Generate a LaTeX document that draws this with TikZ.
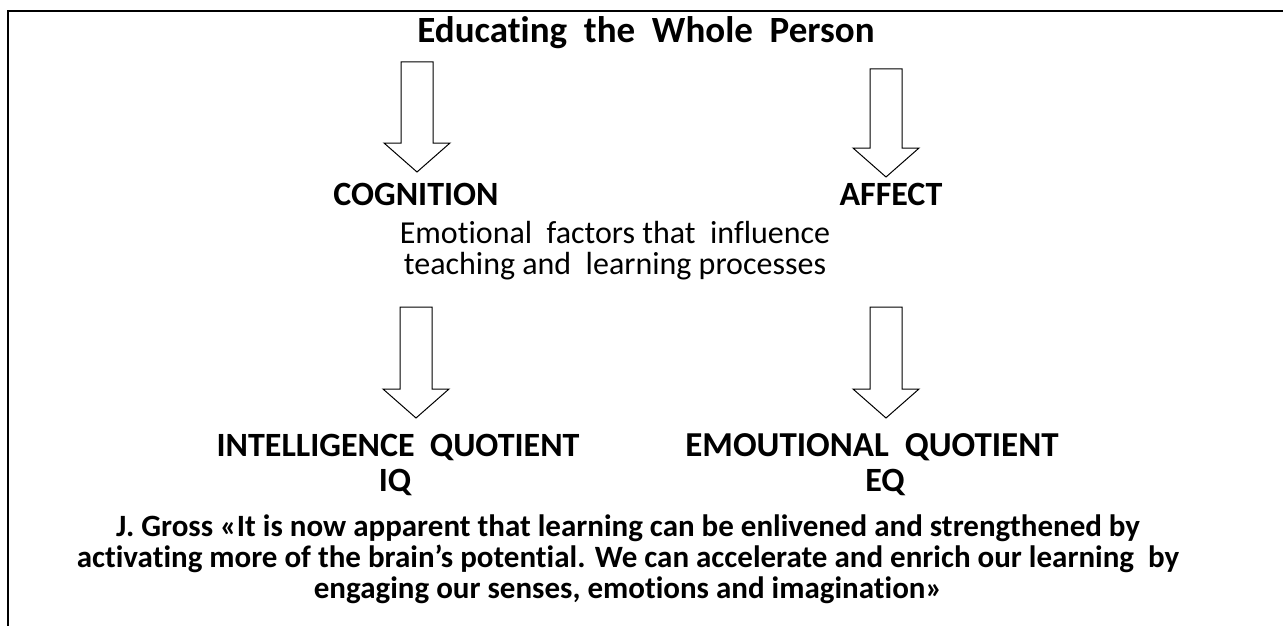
\documentclass[tikz,border=0pt]{standalone}
\usepackage{fontspec}
\setmainfont{Carlito}[Ligatures={NoCommon,NoContextual}]
\usetikzlibrary{calc}
\newcommand{\hollowarrow}[2]{%
	\draw[hollow] ($(#1)+(-16,0)$)--($(#2)+(-16,-29)$)--($(#2)+(-33,-29)$)--(#2)
		--($(#2)+(33,-29)$)--($(#2)+(16,-29)$)--($(#1)+(16,0)$)--cycle;}
\begin{document}
\begin{tikzpicture}[x=1pt,y=-1pt,
		hollow/.style={draw=black,line width=1pt,fill=white,line join=miter},
		head/.style={font=\fontsize{34}{38}\selectfont\bfseries,inner sep=0pt,anchor=base},
		plain/.style={font=\fontsize{32}{31}\selectfont,inner sep=0pt,align=center},
		quote/.style={font=\fontsize{31}{31}\selectfont\bfseries,inner sep=0pt,align=center}]
			\useasboundingbox (0,0) rectangle (1283,626);
			\draw[line width=2.5pt] (1283,11)--(8,11)--(8,626);%frame
			\node[head,font=\fontsize{37}{40}\selectfont\bfseries] (title) at (646,43) {Educating~ the~ Whole~ Person};
			\node[head] (cog) at (416,205) {COGNITION};
			\node[head] (aff) at (891,205) {AFFECT};
			\node[plain] (emo) at (615,251) {Emotional~ factors that~ influence\\teaching and~ learning processes};
			\node[head] (iq) at (398,456) {INTELLIGENCE~ QUOTIENT};
			\node[head] (iqs) at (395,491) {IQ};
			\node[head,font=\fontsize{35}{38}\selectfont\bfseries] (eq) at (872,456) {EMOUTIONAL~ QUOTIENT};
			\node[head] (eqs) at (885,491) {EQ};
			\node[quote] (gross) at (628,559) {J. Gross «It is now apparent that learning can be enlivened and strengthened by\\activating more of the brain’s potential. We can accelerate and enrich our learning~ by\\engaging our senses, emotions and imagination»};
			%arrows
			\foreach \n/\x/\ya/\yb in {a/417/62/172,b/886/69/177,c/416/307/418,d/886/307/418}{
				\coordinate (\n1) at (\x,\ya);
				\coordinate (\n2) at (\x,\yb);
				\hollowarrow{\n1}{\n2}
			}
	\end{tikzpicture}
\end{document}
